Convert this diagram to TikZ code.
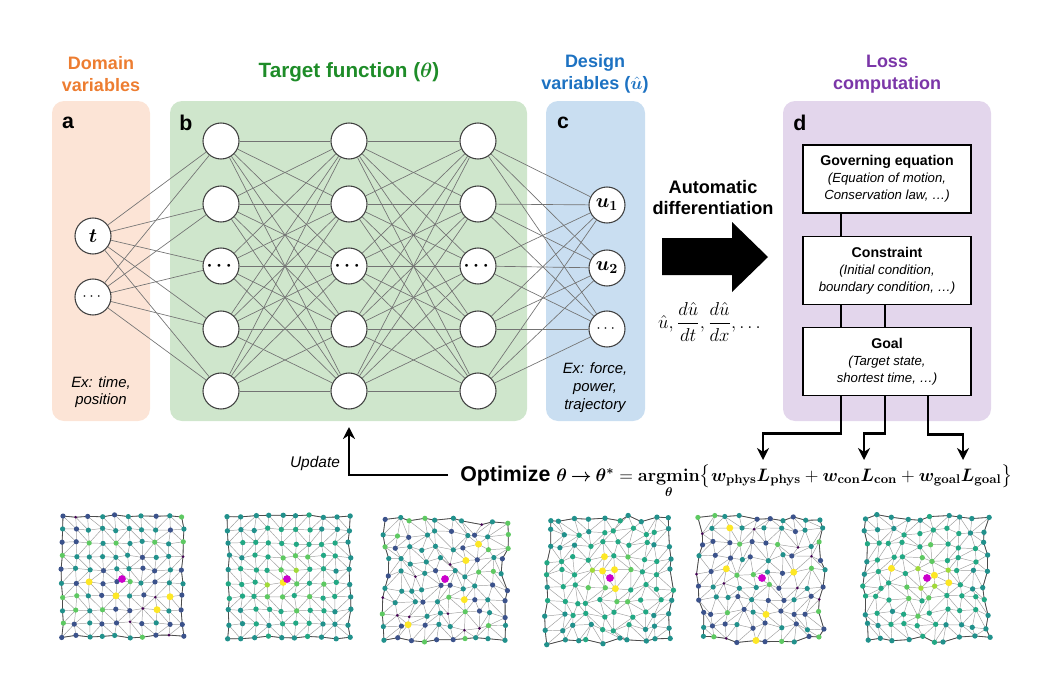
\RequirePackage{fix-cm}
\documentclass[tikz,border=0pt]{standalone}
\usepackage[no-math]{fontspec}
\setmainfont{Liberation Sans}
\usepackage{amsmath,bm}
\usetikzlibrary{positioning,arrows.meta}

\definecolor{domainfill}{HTML}{FCE4D6}
\definecolor{domaintext}{HTML}{ED7D31}
\definecolor{targetfill}{HTML}{CFE6CC}
\definecolor{targettext}{HTML}{1E8C28}
\definecolor{designfill}{HTML}{C9DEF1}
\definecolor{designtext}{HTML}{1D72C2}
\definecolor{lossfill}{HTML}{E3D6EC}
\definecolor{losstext}{HTML}{7B36A8}
\definecolor{vira}{HTML}{440154}
\definecolor{virb}{HTML}{3B528B}
\definecolor{virc}{HTML}{21918C}
\definecolor{vird}{HTML}{22A884}
\definecolor{vire}{HTML}{5EC962}
\definecolor{virf}{HTML}{A0DA39}
\definecolor{virg}{HTML}{FDE725}
\definecolor{srcdot}{HTML}{CC00CC}

% mesh: name, x0, y0, spacing, jitter, seed
\newcommand{\meshgrid}[6]{%
  \pgfmathsetseed{#6}
  \foreach \i in {0,...,9}{\foreach \j in {0,...,9}{
    \pgfmathsetmacro\mx{#2+\i*#4+#5*rand}
    \pgfmathsetmacro\my{#3+\j*#4+#5*rand}
    \coordinate (#1-\i-\j) at (\mx,\my);}}
  \foreach \i [evaluate=\i as \ni using int(\i+1)] in {0,...,8}{\foreach \j in {0,...,9}{
    \draw[meshedge] (#1-\i-\j) -- (#1-\ni-\j);
    \draw[meshedge] (#1-\j-\i) -- (#1-\j-\ni);}}
  \foreach \i [evaluate=\i as \ni using int(\i+1)] in {0,...,8}{%
    \foreach \j [evaluate=\j as \nj using int(\j+1)] in {0,...,8}{
      \pgfmathrandominteger{\flip}{0}{1}
      \ifnum\flip=0 \draw[meshedge] (#1-\i-\j) -- (#1-\ni-\nj);
      \else \draw[meshedge] (#1-\ni-\j) -- (#1-\i-\nj);\fi}}
  \draw[meshborder] (#1-0-0) \foreach \i in {1,...,9}{-- (#1-\i-0)}
    \foreach \j in {1,...,9}{-- (#1-9-\j)} \foreach \i in {8,7,...,0}{-- (#1-\i-9)}
    \foreach \j in {8,7,...,0}{-- (#1-0-\j)};
}
% dots: name, seed, mode (0 blue, 1 green)
\newcommand{\meshdots}[3]{%
  \pgfmathsetseed{#2}
  \foreach \i in {0,...,9}{\foreach \j in {0,...,9}{
    \pgfmathsetmacro\w{ifthenelse(#3==1,sqrt((\i-4.5)^2+(\j-4.5)^2)/4.5+0.45*rnd,rnd)}
    \ifnum#3=1
      \ifdim\w pt<0.4pt \def\dotc{virf}\else\ifdim\w pt<0.65pt \def\dotc{vire}\else
        \ifdim\w pt<1.15pt \def\dotc{vird}\else\def\dotc{virc}\fi\fi\fi
      \def\dotr{2pt}
    \else
      \def\dotr{1.95pt}
      \ifdim\w pt<0.09pt \def\dotc{vira}\def\dotr{1.1pt}\else\ifdim\w pt<0.4pt \def\dotc{virb}\else
        \ifdim\w pt<0.88pt \def\dotc{virc}\else\def\dotc{vire}\fi\fi\fi
    \fi
    \fill[\dotc] (#1-\i-\j) circle (\dotr);}}
}

\begin{document}
\begin{tikzpicture}[x=0.75pt,y=-0.75pt,
  neuron/.style={circle,draw=black!75,line width=0.8pt,fill=white,minimum size=27pt,inner sep=0pt},
  synapse/.style={draw=black!55,line width=0.5pt},
  ptitle/.style={font=\bfseries\fontsize{13.5}{16.5}\selectfont,align=center},
  plabel/.style={font=\bfseries\fontsize{16}{18}\selectfont},
  note/.style={font=\itshape\fontsize{11.2}{13.2}\selectfont,align=center},
  lossbox/.style={draw=black,line width=1.1pt,fill=white,minimum width=126pt,minimum height=51pt,
    align=center,inner sep=1pt,font=\fontsize{9.9}{12.75}\selectfont},
  link/.style={line width=1.9pt},
  flow/.style={line width=1.9pt,-{Stealth[length=9pt,width=9pt]}},
  meshedge/.style={draw=black!38,line width=0.35pt},
  meshborder/.style={draw=black!70,line width=0.6pt},
  yellowdot/.style={fill=virg},
  sourcedot/.style={fill=srcdot}]
\useasboundingbox (0,0) rectangle (1050,700);

\fill[domainfill,rounded corners=9pt] (52,101) rectangle (150,421);
\fill[targetfill,rounded corners=9pt] (170,101) rectangle (527,421);
\fill[designfill,rounded corners=9pt] (546,101) rectangle (645,421);
\fill[lossfill,rounded corners=9pt] (783,101) rectangle (991,421);

\node[ptitle,text=domaintext] (domaintitle) at (101,74) {Domain\\variables};
\node[ptitle,text=targettext,font=\bfseries\fontsize{15.5}{18}\selectfont] (targettitle) at (349,72) {Target function ($\bm{\theta}$)};
\node[ptitle,text=designtext] (designtitle) at (595,74) {Design\\variables ($\hat{\bm{u}}$)};
\node[ptitle,text=losstext] (losstitle) at (887,74) {Loss\\computation};

\node[plabel] (la) at (68,123) {a};
\node[plabel] (lb) at (186,123) {b};
\node[plabel] (lc) at (563,123) {c};
\node[plabel] (ld) at (800,123) {d};

\node[neuron] (in1) at (93,236) {\fontsize{15}{15}\selectfont$\bm{t}$};
\node[neuron] (in2) at (93,297) {\fontsize{12}{12}\selectfont$\cdots$};
\foreach \k/\y in {1/141,2/204,3/266,4/329,5/391}{
  \node[neuron] (ha\k) at (221,\y) {};
  \node[neuron] (hb\k) at (349,\y) {};
  \node[neuron] (hc\k) at (478,\y) {};
}
\foreach \h in {ha3,hb3,hc3}
  \node at (\h) {\fontsize{14}{14}\selectfont$\bm{\cdots}$};
\node[neuron] (out1) at (607,205) {\fontsize{15}{15}\selectfont$\bm{u_1}$};
\node[neuron] (out2) at (607,268) {\fontsize{15}{15}\selectfont$\bm{u_2}$};
\node[neuron] (out3) at (607,329) {\fontsize{12}{12}\selectfont$\cdots$};

\foreach \a in {1,2} \foreach \b in {1,...,5} \draw[synapse] (in\a) -- (ha\b);
\foreach \a in {1,...,5} \foreach \b in {1,...,5}{
  \draw[synapse] (ha\a) -- (hb\b);
  \draw[synapse] (hb\a) -- (hc\b);
}
\foreach \a in {1,...,5} \foreach \b in {1,2,3} \draw[synapse] (hc\a) -- (out\b);

\node[note] (domainnote) at (101,392) {Ex: time,\\position};
\node[note,font=\itshape\fontsize{11.2}{13.5}\selectfont] (designnote) at (595,388) {Ex: force,\\power,\\trajectory};

\node[font=\bfseries\fontsize{13.6}{15.75}\selectfont,align=center] (autodiff) at (713,198) {Automatic\\differentiation};
\fill (662,238) -- (732,238) -- (732,222) -- (768,257) -- (732,292) -- (732,275) -- (662,275) -- cycle;
\node (derivs) at (711,322) {\fontsize{14}{14}\selectfont$\hat{u},\dfrac{d\hat{u}}{dt},\dfrac{d\hat{u}}{dx},\dots$};

\node[lossbox] (goveq) at (887,179) {\textbf{\fontsize{10.6}{12.75}\selectfont Governing equation}\\
  \textit{(Equation of motion,}\\ \textit{Conservation law, \dots)}};
\node[lossbox] (constraint) at (887,270.5) {\textbf{\fontsize{10.6}{12.75}\selectfont Constraint}\\
  \textit{(Initial condition,}\\ \textit{boundary condition, \dots)}};
\node[lossbox] (goal) at (887,361.5) {\textbf{\fontsize{10.6}{12.75}\selectfont Goal}\\
  \textit{(Target state,}\\ \textit{shortest time, \dots)}};
\draw[link] ([xshift=-34.5pt]goveq.south) -- ([xshift=-34.5pt]constraint.north);
\draw[link] ([xshift=-34.5pt]constraint.south) -- ([xshift=-34.5pt]goal.north);
\draw[link] ([xshift=-1.5pt]constraint.south) -- ([xshift=-1.5pt]goal.north);

\node[anchor=base west,inner sep=0pt] (optimize) at (460,481) {\fontsize{16}{16}\selectfont\textbf{Optimize}
  \fontsize{13.5}{16}\selectfont$\bm{\theta}\mathbin{\bm{\rightarrow}}\bm{\theta}^{\bm{*}}=\mathop{\mathbf{argmin}}\limits_{\bm{\theta}}\bigl\{\bm{w}_{\mathbf{phys}}\bm{L}_{\mathbf{phys}}
  +\bm{w}_{\mathbf{con}}\bm{L}_{\mathbf{con}}+\bm{w}_{\mathbf{goal}}\bm{L}_{\mathbf{goal}}\bigr\}$};
\coordinate (physin) at (763,460);
\coordinate (conin) at (864,460);
\coordinate (goalin) at (963,460);
\coordinate (thetain) at (349,427);
\draw[flow] ([xshift=-34.5pt]goal.south) -- ++(0,37) -| (physin);
\draw[flow] ([xshift=-1.5pt]goal.south) -- ++(0,37) -| (conin);
\draw[flow] ([xshift=30.75pt]goal.south) -- ++(0,38) -| (goalin);
\draw[flow] ([xshift=-9pt,yshift=4.5pt]optimize.base west) -| (thetain);
\node[font=\itshape\fontsize{11.6}{13}\selectfont] (updatelabel) at (315,463) {Update};

\meshgrid{ma}{62}{516}{13.4}{1.5}{11}
\meshdots{ma}{21}{0}
\foreach \a/\b in {2/5,4/6,8/6,7/7} \fill[yellowdot] (ma-\a-\b) circle (2.6pt);
\fill[sourcedot] (122,579) circle (2.9pt);

\meshgrid{mb}{228}{516}{13.5}{1.5}{12}
\meshdots{mb}{22}{1}
\foreach \a/\b in {4/5} \fill[yellowdot] (mb-\a-\b) circle (2.6pt);
\fill[sourcedot] (287,579) circle (2.9pt);

\meshgrid{mc}{385}{521}{13.3}{3.8}{13}
\meshdots{mc}{23}{0}
\foreach \a/\b in {7/2,6/3,6/6,2/8} \fill[yellowdot] (mc-\a-\b) circle (2.6pt);
\fill[sourcedot] (445,579) circle (2.9pt);

\meshgrid{md}{548}{518}{13.7}{3.8}{14}
\meshdots{md}{24}{1}
\foreach \a/\b in {4/3,4/4,5/4,5/5} \fill[yellowdot] (md-\a-\b) circle (2.6pt);
\fill[sourcedot] (610,578) circle (2.9pt);

\meshgrid{me}{700}{518}{13.5}{3.8}{15}
\meshdots{me}{25}{0}
\foreach \a/\b in {2/1,2/4,7/4,5/7,4/9} \fill[yellowdot] (me-\a-\b) circle (2.6pt);
\fill[sourcedot] (762,578) circle (2.9pt);

\meshgrid{mf}{865}{518}{13.5}{3.8}{16}
\meshdots{mf}{26}{1}
\foreach \a/\b in {2/4,5/4,6/5} \fill[yellowdot] (mf-\a-\b) circle (2.6pt);
\fill[sourcedot] (927,578) circle (2.9pt);
\end{tikzpicture}
\end{document}
